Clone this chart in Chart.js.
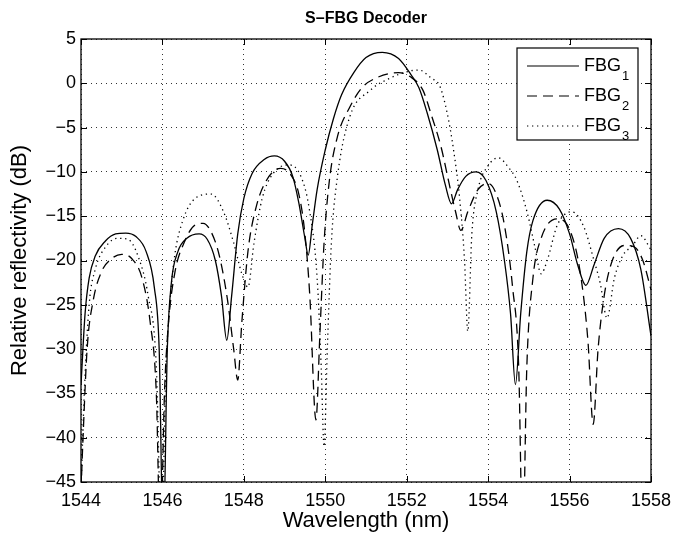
<!DOCTYPE html>
<html>
<head>
<meta charset="utf-8">
<script src="https://cdn.jsdelivr.net/npm/chart.js@4.4.1/dist/chart.umd.min.js"></script>
<style>
  html, body { margin: 0; padding: 0; background: #fff; }
  #wrap { width: 686px; height: 533px; }
</style>
</head>
<body>
<div id="wrap"><canvas id="c" width="686" height="533"></canvas></div>
<script>
// values (wavelength in nm, reflectivity in dB)
const fbg1X = [1544.0, 1544.1, 1544.2, 1544.35, 1544.6, 1544.85, 1545.1, 1545.35, 1545.6, 1545.8, 1545.92, 1546.02,
  1546.12, 1546.22, 1546.38, 1546.6, 1546.9, 1547.1, 1547.3, 1547.45, 1547.58, 1547.7, 1547.85, 1548.0, 1548.2,
  1548.5, 1548.75, 1549.0, 1549.2, 1549.35, 1549.5, 1549.58, 1549.68, 1549.8, 1550.0, 1550.2, 1550.4, 1550.7,
  1551.0, 1551.4, 1551.8, 1552.1, 1552.3, 1552.5, 1552.75, 1552.95, 1553.1, 1553.25, 1553.45, 1553.7, 1553.95,
  1554.2, 1554.4, 1554.55, 1554.67, 1554.8, 1554.95, 1555.1, 1555.45, 1555.75, 1556.0, 1556.2, 1556.4, 1556.6,
  1556.85, 1557.2, 1557.5, 1557.75, 1558.0];
const fbg1Y = [-34, -26, -22, -19.5, -17.8, -17.0, -16.9, -17.3, -19.0, -23, -30, -52,
  -30, -22.5, -19, -17.5, -17.0, -17.6, -20, -24, -29, -24, -17, -13, -10.2,
  -8.6, -8.2, -8.8, -10.5, -13.5, -17.5, -19.4, -16, -12, -7.5, -4, -1.3, 1.2,
  2.9, 3.5, 2.8, 1.0, -0.5, -3.3, -7.5, -11.5, -13.6, -12, -10.5, -10.0, -11,
  -14.5, -20, -26, -34, -26, -19, -15.5, -13.2, -14.2, -17, -20.5, -22.8, -20.5,
  -17.5, -16.4, -17.5, -21, -28.5];

const fbg2X = [1544.0, 1544.05, 1544.15, 1544.3, 1544.5, 1544.75, 1545.0, 1545.25, 1545.5, 1545.7, 1545.85, 1545.95,
  1546.05, 1546.15, 1546.3, 1546.55, 1546.8, 1547.0, 1547.2, 1547.4, 1547.6, 1547.75, 1547.85, 1547.95, 1548.1,
  1548.3, 1548.55, 1548.9, 1549.15, 1549.35, 1549.5, 1549.62, 1549.77, 1549.87, 1549.97, 1550.1, 1550.3, 1550.6,
  1550.9, 1551.3, 1551.8, 1552.1, 1552.4, 1552.6, 1552.85, 1553.05, 1553.2, 1553.33, 1553.5, 1553.75, 1554.0,
  1554.2, 1554.4, 1554.6, 1554.75, 1554.85, 1554.95, 1555.1, 1555.3, 1555.7, 1556.0, 1556.25, 1556.45, 1556.58,
  1556.7, 1556.85, 1557.05, 1557.35, 1557.6, 1557.8, 1558.0];
const fbg2Y = [-46, -40, -30, -24.5, -21.3, -19.8, -19.3, -19.8, -22, -27, -35, -52,
  -35, -27, -21.5, -17.8, -16.0, -15.8, -16.8, -19.5, -24.5, -30, -33.5, -27, -19,
  -14, -11, -9.6, -10.3, -12.5, -17, -24, -38, -28, -18, -11, -6, -2.7,
  -0.5, 0.7, 1.2, 0.7, -0.8, -3.5, -7.3, -11.5, -14.5, -16.6, -14.5, -12, -11.3,
  -12.5, -16, -23, -32, -52, -32, -22, -17.5, -15.3, -16.5, -21, -29, -38.5,
  -30, -24, -20, -18.3, -18.5, -20, -23.3];

const fbg3X = [1544.0, 1544.08, 1544.2, 1544.35, 1544.6, 1544.9, 1545.15, 1545.4, 1545.65, 1545.85, 1545.98, 1546.08,
  1546.18, 1546.3, 1546.5, 1546.8, 1547.2, 1547.5, 1547.75, 1547.95, 1548.1, 1548.25, 1548.45, 1548.7, 1549.1,
  1549.4, 1549.6, 1549.8, 1549.9, 1549.97, 1550.05, 1550.15, 1550.3, 1550.6, 1551.1, 1551.6, 1552.0, 1552.3,
  1552.6, 1552.82, 1553.0, 1553.15, 1553.3, 1553.42, 1553.5, 1553.6, 1553.75, 1554.0, 1554.25, 1554.5, 1554.7,
  1554.96, 1555.15, 1555.3, 1555.45, 1555.7, 1556.05, 1556.35, 1556.6, 1556.75, 1556.92, 1557.1, 1557.3, 1557.55,
  1557.75, 1558.0];
const fbg3Y = [-46, -35, -25, -21, -18.5, -17.5, -17.6, -19.5, -24, -32, -52, -33,
  -25, -19.5, -15.5, -13, -12.5, -14.5, -18, -21.5, -23, -18, -13, -10.3, -9.2,
  -10.5, -14, -22, -32, -41, -30, -18, -10.5, -3.8, -0.8, 0.6, 1.3, 1.5,
  0.6, -0.4, -3.5, -7.5, -13, -20, -28, -17, -12, -9.3, -8.4, -9.5, -10.9,
  -14.6, -18.5, -21.5, -20, -16, -14.5, -16.2, -20, -22.5, -26.5, -22, -19.5, -18.3,
  -17.2, -18.8];

const xTicks = [1544, 1546, 1548, 1550, 1552, 1554, 1556, 1558];
const yTicks = [5, 0, -5, -10, -15, -20, -25, -30, -35, -40, -45];
const seriesNames = ['FBG', 'FBG', 'FBG'];
const seriesSubs = ['1', '2', '3'];

const FONT = '"Liberation Sans", Arial, Helvetica, sans-serif';
const toPts = (xs, ys) => xs.map((x, i) => ({ x: x, y: ys[i] }));
const dashes = [[], [10, 6], [1.3, 3.7]];

const frameAndLegend = {
  id: 'frameAndLegend',
  afterDraw(chart) {
    const ctx = chart.ctx;
    const a = chart.chartArea;
    const xs = chart.scales.x, ys = chart.scales.y;
    ctx.save();
    ctx.strokeStyle = '#000';
    ctx.lineWidth = 1;
    ctx.setLineDash([]);
    // inward tick marks on all four sides
    ctx.beginPath();
    xTicks.forEach(v => {
      const px = Math.round(xs.getPixelForValue(v)) + 0.5;
      ctx.moveTo(px, a.bottom); ctx.lineTo(px, a.bottom - 6);
      ctx.moveTo(px, a.top); ctx.lineTo(px, a.top + 6);
    });
    yTicks.forEach(v => {
      const py = Math.round(ys.getPixelForValue(v)) + 0.5;
      ctx.moveTo(a.left, py); ctx.lineTo(a.left + 6, py);
      ctx.moveTo(a.right, py); ctx.lineTo(a.right - 6, py);
    });
    ctx.stroke();
    ctx.lineWidth = 1.3;
    ctx.strokeRect(a.left, a.top, a.right - a.left, a.bottom - a.top);

    // title
    ctx.fillStyle = '#000';
    ctx.font = 'bold 16px ' + FONT;
    ctx.textAlign = 'center';
    ctx.textBaseline = 'middle';
    ctx.fillText('S\u2013FBG Decoder', (a.left + a.right) / 2, 19);

    // legend box, top right inside the axes
    const bx = 517, by = 48, bw = 121, bh = 92;
    ctx.fillStyle = '#fff';
    ctx.fillRect(bx, by, bw, bh);
    ctx.lineWidth = 1.2;
    ctx.strokeRect(bx, by, bw, bh);
    chart.data.datasets.forEach((ds, i) => {
      const ly = by + 18 + i * 30;
      ctx.beginPath();
      ctx.setLineDash(dashes[i]);
      ctx.lineWidth = 1.2;
      ctx.moveTo(527, ly); ctx.lineTo(579, ly);
      ctx.stroke();
      ctx.setLineDash([]);
      ctx.fillStyle = '#000';
      ctx.textAlign = 'left';
      ctx.textBaseline = 'middle';
      ctx.font = '18px ' + FONT;
      ctx.fillText(seriesNames[i], 584, ly);
      const w = ctx.measureText(seriesNames[i]).width;
      ctx.font = '13px ' + FONT;
      ctx.fillText(seriesSubs[i], 584 + w + 1, ly + 10);
    });
    ctx.restore();
  }
};

new Chart(document.getElementById('c'), {
  type: 'line',
  data: {
    datasets: [
      { label: 'FBG1', data: toPts(fbg1X, fbg1Y), borderDash: dashes[0] },
      { label: 'FBG2', data: toPts(fbg2X, fbg2Y), borderDash: dashes[1] },
      { label: 'FBG3', data: toPts(fbg3X, fbg3Y), borderDash: dashes[2] }
    ].map(ds => Object.assign(ds, {
      borderColor: '#000', borderWidth: 1.3, pointRadius: 0, fill: false,
      cubicInterpolationMode: 'monotone'
    }))
  },
  options: {
    responsive: false,
    animation: false,
    layout: { padding: { top: 39, right: 35, left: 0, bottom: 0 } },
    plugins: { legend: { display: false }, tooltip: { enabled: false }, title: { display: false } },
    scales: {
      x: {
        type: 'linear', min: 1544, max: 1558,
        afterBuildTicks: s => { s.ticks = xTicks.map(v => ({ value: v })); },
        afterFit: s => { s.height = 51; },
        ticks: { color: '#000', padding: 8, font: { family: FONT, size: 18 }, callback: v => String(v) },
        grid: { color: '#333', lineWidth: 1, drawTicks: false },
        border: { display: false, dash: [1, 4] },
        title: { display: true, text: 'Wavelength (nm)', color: '#000', padding: { top: 0, bottom: 0 },
          font: { family: FONT, size: 22, lineHeight: 1.1 } }
      },
      y: {
        type: 'linear', min: -45, max: 5,
        afterBuildTicks: s => { s.ticks = yTicks.map(v => ({ value: v })); },
        afterFit: s => { s.width = 81; },
        ticks: { color: '#000', padding: 5, font: { family: FONT, size: 18 },
          callback: v => (v < 0 ? '\u2212' + Math.abs(v) : String(v)) },
        grid: { color: '#333', lineWidth: 1, drawTicks: false },
        border: { display: false, dash: [1, 4] },
        title: { display: true, text: 'Relative reflectivity (dB)', color: '#000', padding: { top: 8, bottom: 0 },
          font: { family: FONT, size: 22, lineHeight: 1.1 } }
      }
    }
  },
  plugins: [frameAndLegend]
});
</script>
</body>
</html>
